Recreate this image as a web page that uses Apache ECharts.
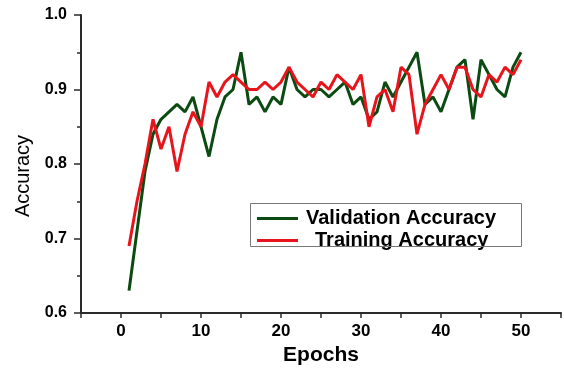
<!DOCTYPE html>
<html>
<head>
<meta charset="utf-8">
<script src="https://cdn.jsdelivr.net/npm/echarts@6/dist/echarts.min.js"></script>
<style>
html,body{margin:0;padding:0;background:#fff;}
#c{width:564px;height:371px;}
</style>
</head>
<body>
<div id="c"></div>
<script>
const epochs = [1,2,3,4,5,6,7,8,9,10,11,12,13,14,15,16,17,18,19,20,21,22,23,24,25,26,27,28,29,30,31,32,33,34,35,36,37,38,39,40,41,42,43,44,45,46,47,48,49,50];
const validationAccuracy = [0.63,0.71,0.79,0.84,0.86,0.87,0.88,0.87,0.89,0.85,
  0.81,0.86,0.89,0.90,0.95,0.88,0.89,0.87,0.89,0.88,
  0.93,0.90,0.89,0.90,0.90,0.89,0.90,0.91,0.88,0.89,
  0.86,0.87,0.91,0.89,0.91,0.93,0.95,0.88,0.89,0.87,
  0.90,0.93,0.94,0.86,0.94,0.92,0.90,0.89,0.93,0.95];
const trainingAccuracy = [0.69,0.75,0.80,0.86,0.82,0.85,0.79,0.84,0.87,0.85,
  0.91,0.89,0.91,0.92,0.91,0.90,0.90,0.91,0.90,0.91,
  0.93,0.91,0.90,0.89,0.91,0.90,0.92,0.91,0.90,0.92,
  0.85,0.89,0.90,0.87,0.93,0.92,0.84,0.88,0.90,0.92,
  0.90,0.93,0.93,0.90,0.89,0.92,0.91,0.93,0.92,0.94];
const seriesNames = ['Validation Accuracy','Training Accuracy'];
const xTickLabels = ['0','10','20','30','40','50'];
const yTickLabels = ['0.6','0.7','0.8','0.9','1.0'];

const FONT = '"Liberation Sans", Arial, sans-serif';
const GREEN = '#0b4a10', RED = '#e8141c';
const AXIS = '#2a2a2a';
const chart = echarts.init(document.getElementById('c'));
const pair = arr => arr.map((v,i)=>[epochs[i], v]);
const legendText = {fontSize: 20, fontWeight: 'bold', fontFamily: FONT, color: '#000', lineHeight: 22};
chart.setOption({
  animation: false,
  backgroundColor: '#fff',
  grid: {left: 81, top: 15, bottom: 57, right: -5.5},
  graphic: [{
    type: 'rect', silent: true, z: 5,
    shape: {x: 250.5, y: 203.5, width: 271, height: 43},
    style: {fill: 'rgba(0,0,0,0)', stroke: '#777', lineWidth: 1}
  }],
  legend: {
    data: seriesNames.map((n,i) => ({name: n, icon: 'rect', itemStyle: {color: i ? RED : GREEN}})),
    orient: 'vertical',
    left: 257, top: 207.5,
    itemWidth: 41, itemHeight: 3, itemGap: 0,
    padding: 0,
    formatter: n => n === 'Training Accuracy' ? '{t|' + n + '}' : '{v|' + n + '}',
    textStyle: Object.assign({}, legendText, {
      rich: {
        v: Object.assign({}, legendText, {padding: [0, 0, 0, 3]}),
        t: Object.assign({}, legendText, {padding: [0, 0, 0, 12]})
      }
    })
  },
  xAxis: {
    type: 'value', min: -5, max: 55, interval: 5,
    name: 'Epochs', nameLocation: 'middle', nameGap: 32,
    nameTextStyle: {fontSize: 21, fontWeight: 'bold', fontFamily: FONT, color: '#000'},
    axisLine: {onZero: false, lineStyle: {color: AXIS, width: 2}},
    axisTick: {inside: false, length: 5, lineStyle: {color: AXIS, width: 1.5}},
    axisLabel: {
      margin: 10, fontSize: 17, fontWeight: 'bold', fontFamily: FONT, color: '#000',
      formatter: v => xTickLabels.includes(String(v)) ? String(v) : ''
    },
    splitLine: {show: false}
  },
  yAxis: {
    type: 'value', min: 0.6, max: 1.0, interval: 0.1,
    name: 'Accuracy', nameLocation: 'middle', nameGap: 48,
    nameTextStyle: {fontSize: 20, fontFamily: FONT, color: '#000', padding: [0, 24, 0, 0]},
    axisLine: {onZero: false, lineStyle: {color: AXIS, width: 2}},
    axisTick: {length: 7, lineStyle: {color: AXIS, width: 1.5}},
    minorTick: {show: true, splitNumber: 2, length: 4, lineStyle: {color: AXIS, width: 1.5}},
    axisLabel: {
      margin: 14, fontSize: 16, fontWeight: 'bold', fontFamily: FONT, color: '#000',
      formatter: v => { const s = v.toFixed(1); return yTickLabels.includes(s) ? s : ''; }
    },
    splitLine: {show: false}
  },
  series: [
    {name: seriesNames[0], type: 'line', symbol: 'none', data: pair(validationAccuracy),
     lineStyle: {color: GREEN, width: 3}, itemStyle: {color: GREEN}},
    {name: seriesNames[1], type: 'line', symbol: 'none', data: pair(trainingAccuracy),
     lineStyle: {color: RED, width: 3}, itemStyle: {color: RED}}
  ]
});
</script>
</body>
</html>
